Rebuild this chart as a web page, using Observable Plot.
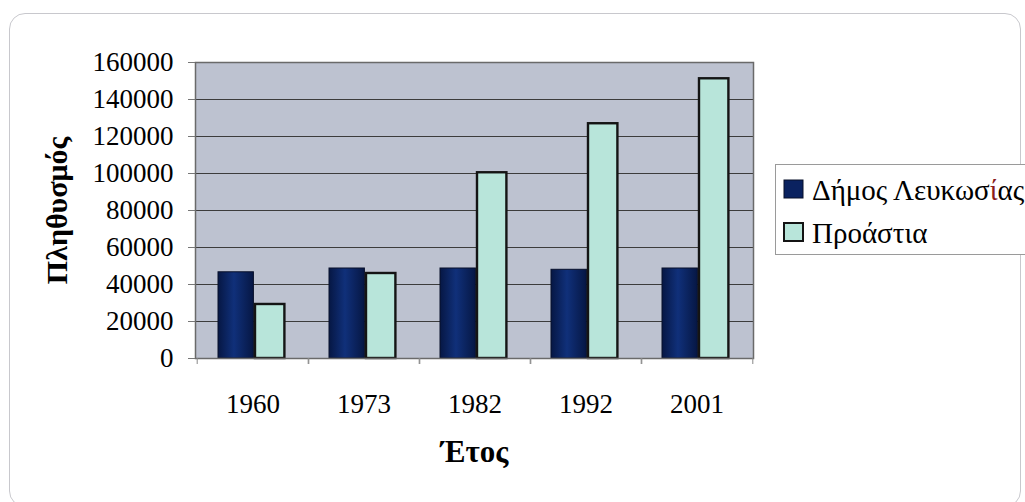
<!DOCTYPE html>
<html>
<head>
<meta charset="utf-8">
<script src="https://cdn.jsdelivr.net/npm/d3@7"></script>
<script src="https://cdn.jsdelivr.net/npm/@observablehq/plot@0.6"></script>
<style>
  body { margin: 0; background: #fff; }
  #wrap { position: relative; width: 1025px; height: 502px; overflow: hidden; font-family: "Liberation Serif", "Times New Roman", serif; }
  #border { position: absolute; left: 9px; top: 13px; width: 1010px; height: 492px; border: 1.5px solid #c8c8cd; border-radius: 16px; }
  #chart { position: absolute; left: 0; top: 0; }
  #legend { position: absolute; left: 775px; top: 164px; }
  #legend text { font-family: "Liberation Serif", "Times New Roman", serif; }
</style>
</head>
<body>
<div id="wrap">
  <div id="border"></div>
  <div id="chart"></div>
  <div id="legend"></div>
</div>
<script>
// ---- data ----
const years = ["1960", "1973", "1982", "1992", "2001"];
const seriesNames = ["Δήμος Λευκωσίας", "Προάστια"];
const dimos = [46600, 48650, 48650, 47950, 48650];
const proastia = [29200, 45950, 100400, 126900, 151200];
const yTicks = [0, 20000, 40000, 60000, 80000, 100000, 120000, 140000, 160000];
const yLabel = "Πληθυσμός";
const xLabel = "Έτος";

// ---- layout ----
const W = 1025, H = 502;
const mL = 195, mR = 272, mT = 62, mB = 144;
const band = (W - mL - mR) / years.length;
const font = "'Liberation Serif', 'Times New Roman', serif";
const darkFill = "url(#gradDark)";
const lightFill = "#b8e5da";

const rowsA = years.map((y, i) => ({ year: y, series: seriesNames[0], value: dimos[i] }));
const rowsB = years.map((y, i) => ({ year: y, series: seriesNames[1], value: proastia[i] }));

const chart = Plot.plot({
  width: W, height: H,
  marginLeft: mL, marginRight: mR, marginTop: mT, marginBottom: mB,
  style: { fontFamily: font, fontSize: "27px", color: "#000", background: "transparent" },
  x: { domain: years, padding: 0, label: null },
  y: { domain: [0, 160000], label: null },
  marks: [
    Plot.frame({ fill: "#bdc2d0" }),
    Plot.ruleY(yTicks.slice(1), { stroke: "#3c3c3c", strokeWidth: 1 }),
    Plot.barY(rowsA, { x: "year", y: "value", fill: darkFill, stroke: "#08102a", strokeWidth: 1,
      insetLeft: 21, insetRight: band - 57 }),
    Plot.barY(rowsB, { x: "year", y: "value", fill: lightFill, stroke: "#141414", strokeWidth: 2.4,
      insetLeft: 58, insetRight: band - 88 }),
    Plot.frame({ stroke: "#6a6a6a", strokeWidth: 1.5 }),
    Plot.axisY({ ticks: yTicks, tickSize: 7, tickPadding: 15, tickFormat: d => String(d),
      fontSize: 27, label: null, stroke: "#777" }),
    Plot.axisX({ tickSize: 0, tickPadding: 35, fontSize: 27, label: null }),
    Plot.ruleX(years, { x: d => d, dx: -band / 2, insetTop: H - mT - mB, insetBottom: -6, stroke: "#888" }),
    Plot.ruleX(years, { x: d => d, dx: band / 2, insetTop: H - mT - mB, insetBottom: -6, stroke: "#888" }),
    Plot.text([yLabel], { frameAnchor: "left", dx: -138, rotate: -90, textAnchor: "middle",
      fontWeight: "bold", fontSize: 30, fill: "#000" }),
    Plot.text([xLabel], { frameAnchor: "bottom", dy: 103, textAnchor: "middle",
      fontWeight: "bold", fontSize: 31, fill: "#000" })
  ]
});

// gradient for dark bars
const svgSel = d3.select(chart);
const defs = svgSel.insert("defs", ":first-child");
const g = defs.append("linearGradient").attr("id", "gradDark")
  .attr("x1", "0").attr("x2", "1").attr("y1", "0").attr("y2", "0");
g.append("stop").attr("offset", "0%").attr("stop-color", "#061744");
g.append("stop").attr("offset", "45%").attr("stop-color", "#10307a");
g.append("stop").attr("offset", "100%").attr("stop-color", "#061744");
document.getElementById("chart").appendChild(chart);

// ---- legend ----
const legendColors = ["#0a2260", lightFill];
const legendStroke = ["#08102a", "#141414"];
const lg = d3.select("#legend").append("svg").attr("width", 252).attr("height", 92);
lg.append("rect").attr("x", 0.5).attr("y", 0.5).attr("width", 260).attr("height", 90)
  .attr("fill", "#fff").attr("stroke", "#9a9a9a");
seriesNames.forEach((name, i) => {
  const top = 16 + i * 43;
  lg.append("rect").attr("x", 9).attr("y", top).attr("width", 19).attr("height", 18)
    .attr("fill", legendColors[i]).attr("stroke", legendStroke[i]).attr("stroke-width", i ? 2 : 1);
  const t = lg.append("text").attr("x", 37).attr("y", top + 20)
    .attr("font-family", font).attr("font-size", 29).attr("fill", "#000");
  const k = name.indexOf("ί");
  if (k >= 0) {
    t.append("tspan").text(name.slice(0, k));
    t.append("tspan").attr("fill", "#8a1c1c").text(name.slice(k, k + 1));
    t.append("tspan").text(name.slice(k + 1));
  } else t.text(name);
});
</script>
</body>
</html>
